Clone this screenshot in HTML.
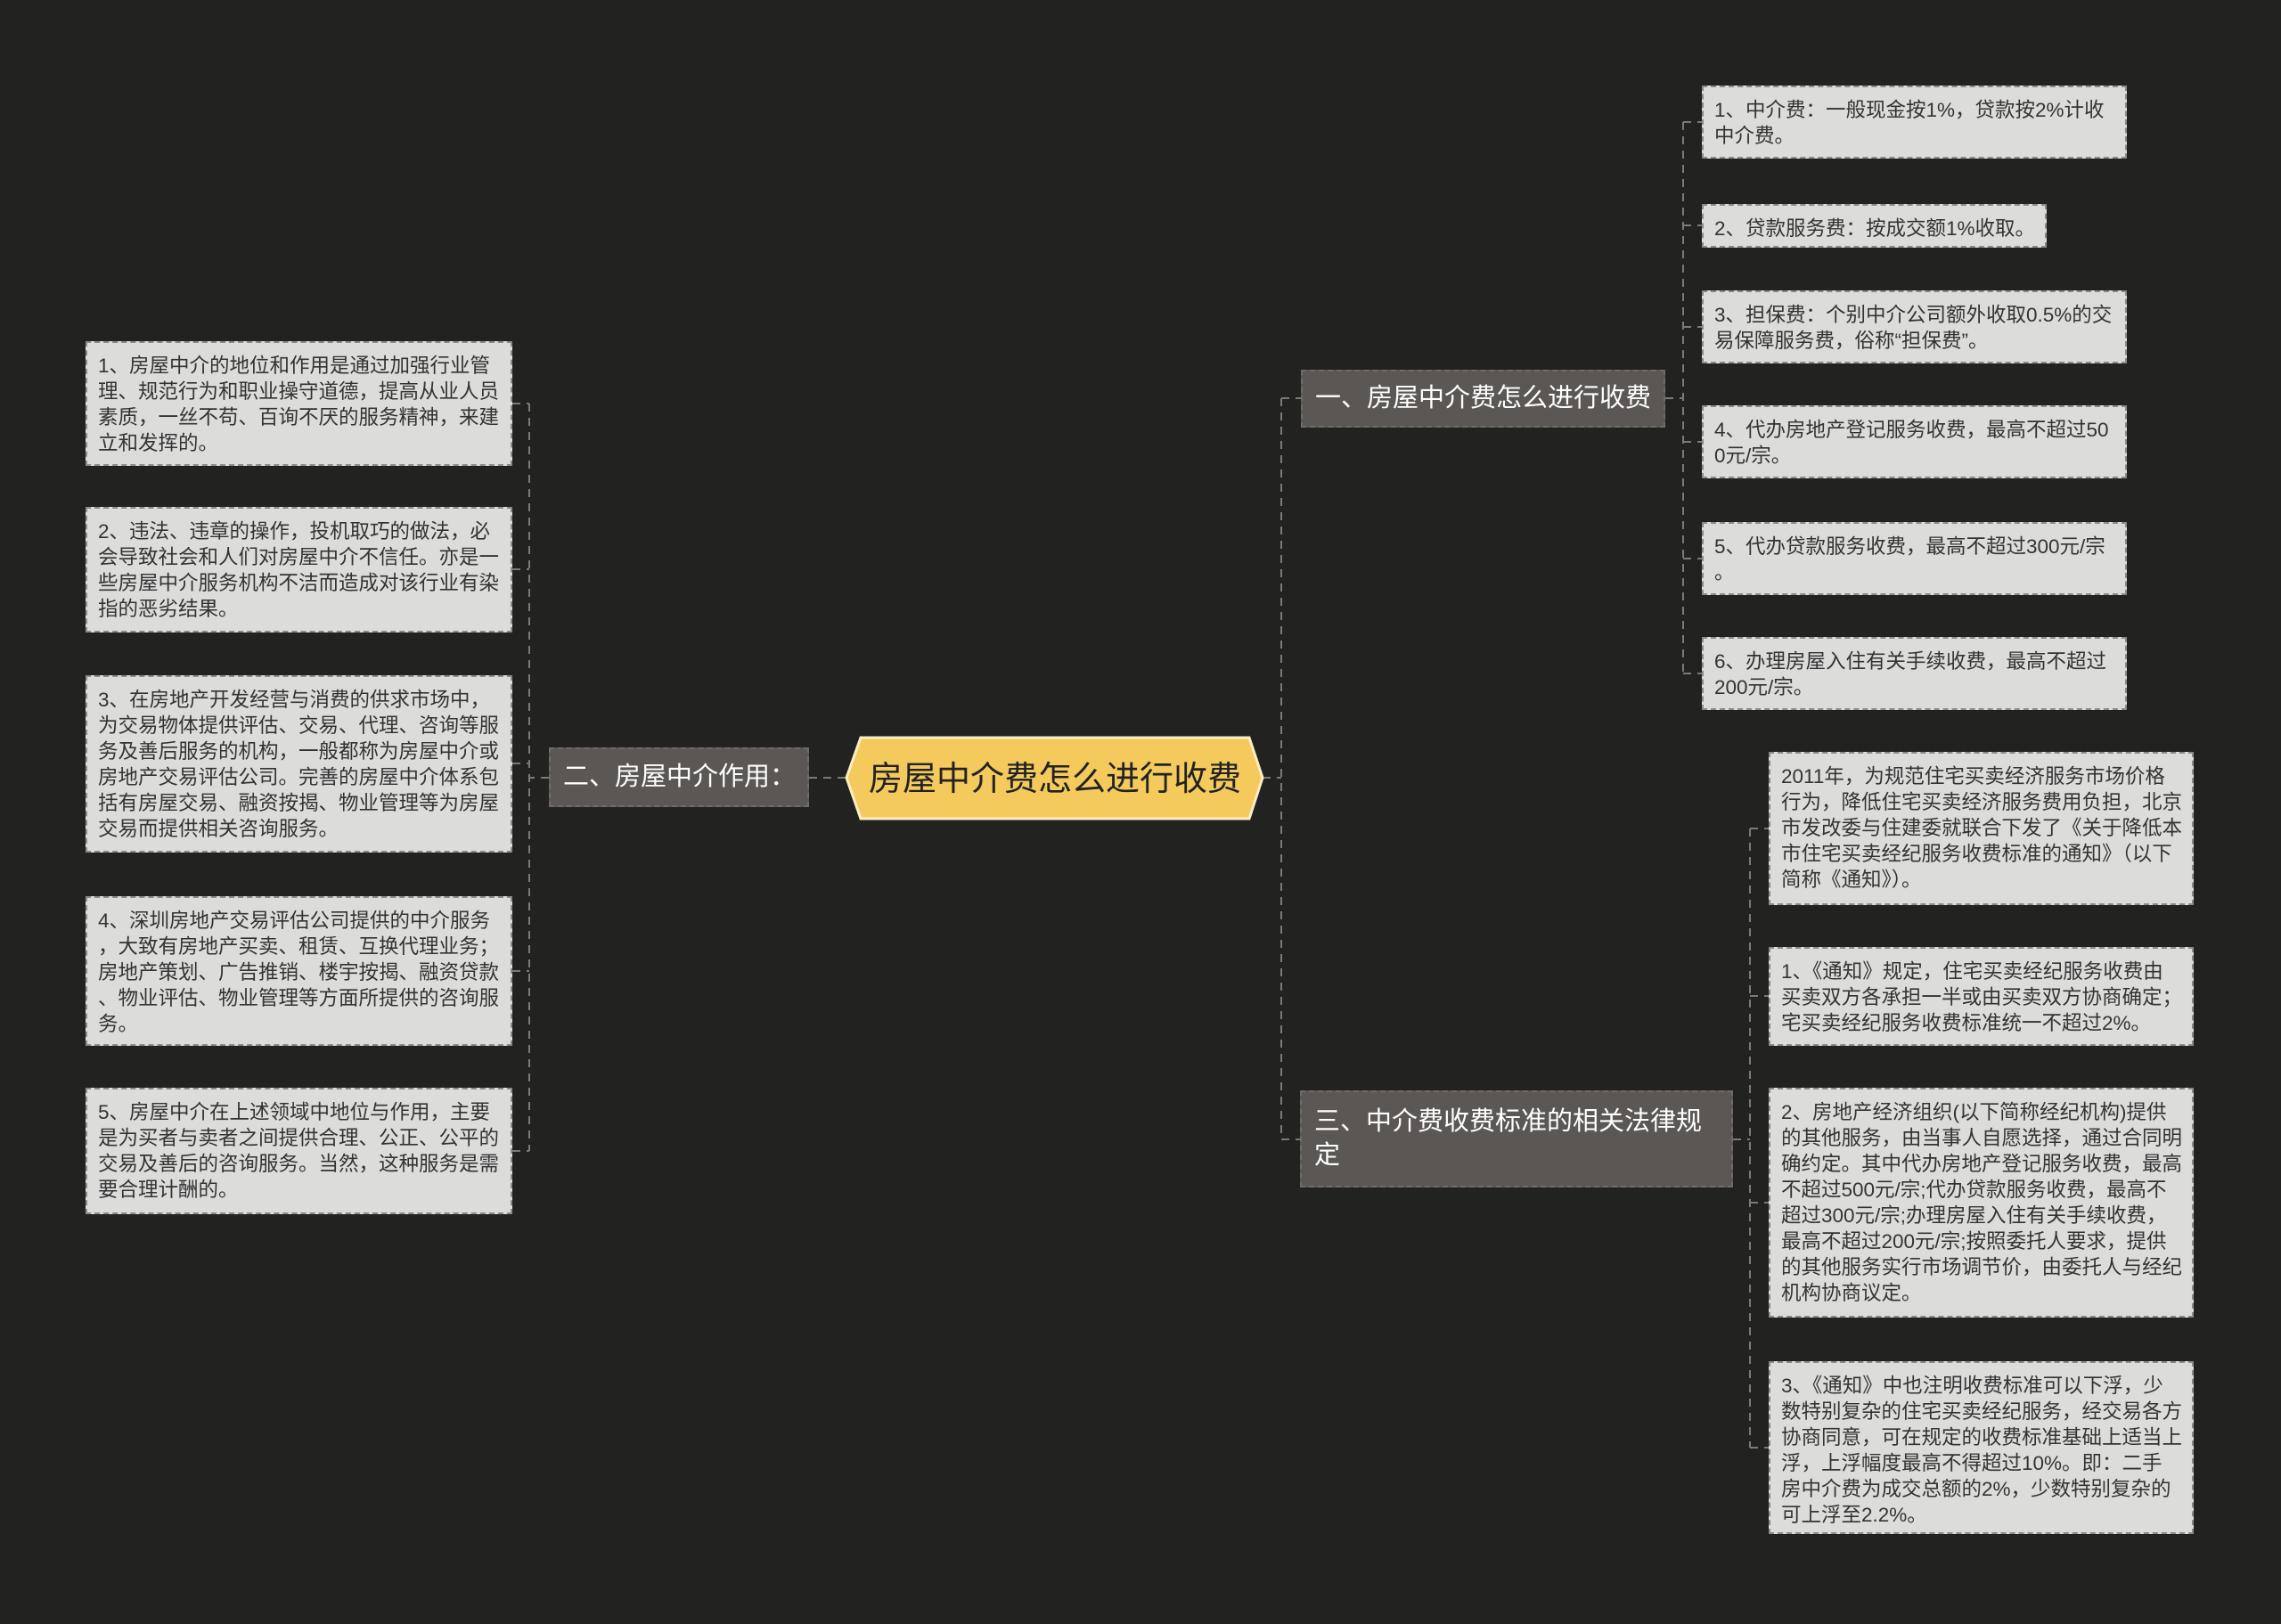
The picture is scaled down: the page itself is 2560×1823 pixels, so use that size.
<!DOCTYPE html>
<html><head><meta charset="utf-8"><style>
body{margin:0;width:2560px;height:1823px;background:#222221;position:relative;overflow:hidden;font-family:"Liberation Sans","Noto Sans CJK SC",sans-serif}
.l{position:absolute;background:#dcdcdb;border:2px dashed #8a8a8a;box-sizing:border-box;color:#333;font-size:22.5px;line-height:29px;padding:11px 12px 9px;white-space:nowrap}
.b{position:absolute;background:#5a5754;border:2px dashed #6e6b68;box-sizing:border-box;color:#fff;font-size:29px;line-height:38px;padding:0 14px;white-space:nowrap}
svg{position:absolute;left:0;top:0}
</style></head><body>
<svg width="2560" height="1823">
<g stroke="#7a7a7a" stroke-width="2" fill="none" stroke-dasharray="9 7">
<path d="M1417 873 H1438 M1438 447 V1279 M1438 447 H1460 M1438 1279 H1460"/>
<path d="M1869 447 H1889 M1889 137 V756 M1889 137 H1910 M1889 253 H1910 M1889 367 H1910 M1889 496 H1910 M1889 627 H1910 M1889 756 H1910"/>
<path d="M1945 1279 H1964 M1964 930 V1625 M1964 930 H1985 M1964 1118 H1985 M1964 1350 H1985 M1964 1625 H1985"/>
<path d="M908 873 H950 M616 873 H594 M594 453 V1292 M575 453 H594 M575 639 H594 M575 857 H594 M575 1090 H594 M575 1292 H594"/>
</g>
</svg>
<svg width="2560" height="1823">
<polygon points="966,828 1402,828 1417,873 1402,919 966,919 950,873" fill="#f4ca5c" stroke="#fbeec5" stroke-width="3"/>
<text x="1184" y="887" text-anchor="middle" font-size="38" fill="#222" font-family="Liberation Sans,Noto Sans CJK SC,sans-serif">房屋中介费怎么进行收费</text>
</svg>
<div class="b" style="left:1460px;top:415px;width:409px;height:65px;line-height:61px">一、房屋中介费怎么进行收费</div>
<div class="b" style="left:616px;top:839px;width:292px;height:67px;line-height:63px">二、房屋中介作用：</div>
<div class="b" style="left:1459px;top:1224px;width:486px;height:109px;padding-top:14px">三、中介费收费标准的相关法律规<br>定</div>

<div class="l" style="left:1910px;top:96px;width:477px;height:82px">1、中介费：一般现金按1%，贷款按2%计收<br>中介费。</div>
<div class="l" style="left:1910px;top:229px;width:387px;height:49px">2、贷款服务费：按成交额1%收取。</div>
<div class="l" style="left:1910px;top:326px;width:477px;height:82px">3、担保费：个别中介公司额外收取0.5%的交<br>易保障服务费，俗称“担保费”。</div>
<div class="l" style="left:1910px;top:455px;width:477px;height:82px">4、代办房地产登记服务收费，最高不超过50<br>0元/宗。</div>
<div class="l" style="left:1910px;top:586px;width:477px;height:82px">5、代办贷款服务收费，最高不超过300元/宗<br>。</div>
<div class="l" style="left:1910px;top:715px;width:477px;height:82px">6、办理房屋入住有关手续收费，最高不超过<br>200元/宗。</div>

<div class="l" style="left:1985px;top:844px;width:477px;height:172px">2011年，为规范住宅买卖经济服务市场价格<br>行为，降低住宅买卖经济服务费用负担，北京<br>市发改委与住建委就联合下发了《关于降低本<br>市住宅买卖经纪服务收费标准的通知》（以下<br>简称《通知》）。</div>
<div class="l" style="left:1985px;top:1063px;width:477px;height:111px">1、《通知》规定，住宅买卖经纪服务收费由<br>买卖双方各承担一半或由买卖双方协商确定；<br>宅买卖经纪服务收费标准统一不超过2%。</div>
<div class="l" style="left:1985px;top:1221px;width:477px;height:258px">2、房地产经济组织(以下简称经纪机构)提供<br>的其他服务，由当事人自愿选择，通过合同明<br>确约定。其中代办房地产登记服务收费，最高<br>不超过500元/宗;代办贷款服务收费，最高不<br>超过300元/宗;办理房屋入住有关手续收费，<br>最高不超过200元/宗;按照委托人要求，提供<br>的其他服务实行市场调节价，由委托人与经纪<br>机构协商议定。</div>
<div class="l" style="left:1985px;top:1528px;width:477px;height:194px">3、《通知》中也注明收费标准可以下浮，少<br>数特别复杂的住宅买卖经纪服务，经交易各方<br>协商同意，可在规定的收费标准基础上适当上<br>浮，上浮幅度最高不得超过10%。即：二手<br>房中介费为成交总额的2%，少数特别复杂的<br>可上浮至2.2%。</div>

<div class="l" style="left:96px;top:383px;width:479px;height:140px">1、房屋中介的地位和作用是通过加强行业管<br>理、规范行为和职业操守道德，提高从业人员<br>素质，一丝不苟、百询不厌的服务精神，来建<br>立和发挥的。</div>
<div class="l" style="left:96px;top:569px;width:479px;height:141px">2、违法、违章的操作，投机取巧的做法，必<br>会导致社会和人们对房屋中介不信任。亦是一<br>些房屋中介服务机构不洁而造成对该行业有染<br>指的恶劣结果。</div>
<div class="l" style="left:96px;top:758px;width:479px;height:199px">3、在房地产开发经营与消费的供求市场中，<br>为交易物体提供评估、交易、代理、咨询等服<br>务及善后服务的机构，一般都称为房屋中介或<br>房地产交易评估公司。完善的房屋中介体系包<br>括有房屋交易、融资按揭、物业管理等为房屋<br>交易而提供相关咨询服务。</div>
<div class="l" style="left:96px;top:1006px;width:479px;height:168px">4、深圳房地产交易评估公司提供的中介服务<br>，大致有房地产买卖、租赁、互换代理业务；<br>房地产策划、广告推销、楼宇按揭、融资贷款<br>、物业评估、物业管理等方面所提供的咨询服<br>务。</div>
<div class="l" style="left:96px;top:1221px;width:479px;height:142px">5、房屋中介在上述领域中地位与作用，主要<br>是为买者与卖者之间提供合理、公正、公平的<br>交易及善后的咨询服务。当然，这种服务是需<br>要合理计酬的。</div>
</body></html>
